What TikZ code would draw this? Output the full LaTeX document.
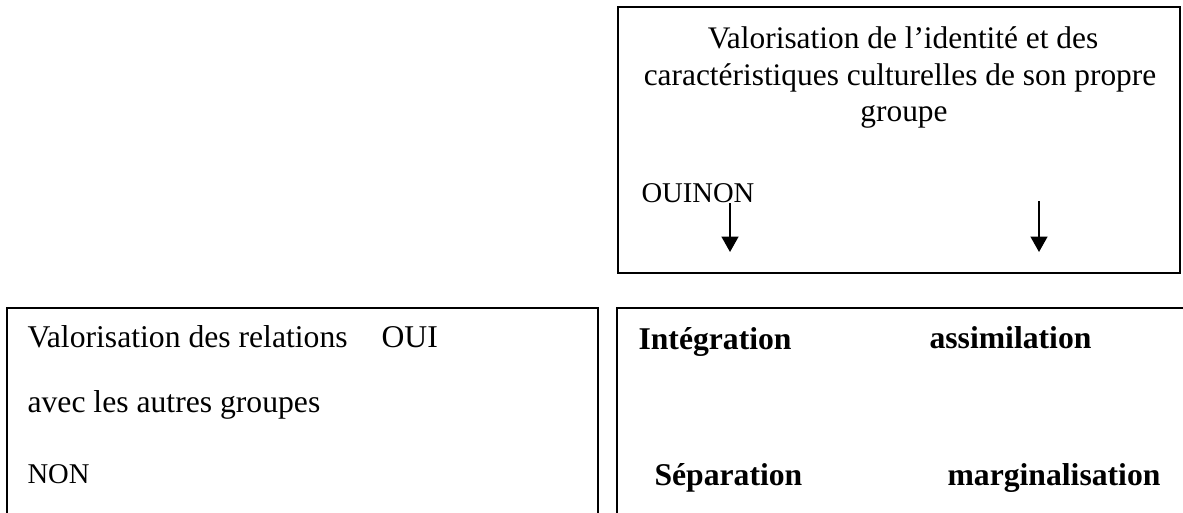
\documentclass[tikz,border=0pt]{standalone}
\usepackage{fontspec}
\setmainfont{Liberation Serif}
\usetikzlibrary{arrows.meta}
\tikzset{
  cadre/.style={draw, line width=0.75pt},
  texte/.style={anchor=base west, inner sep=0pt, font=\fontsize{11.4}{13}\selectfont},
  petit/.style={texte, font=\fontsize{10.3}{12}\selectfont},
  centre/.style={anchor=base, inner sep=0pt, font=\fontsize{11.3}{13}\selectfont},
  gras/.style={texte, font=\fontsize{11.4}{13}\selectfont\bfseries},
  fleche/.style={line width=0.7pt, -{Triangle[width=6pt,length=5.5pt]}}
}
\begin{document}
\begin{tikzpicture}[x=0.36pt, y=-0.36pt]
\useasboundingbox (0,0) rectangle (1183,513);
% cadres
\draw[cadre] (618,7) rectangle (1180,273);
\draw[cadre] (7,530) -- (7,308) -- (598,308) -- (598,530);
\draw[cadre] (617,530) -- (617,308) -- (1200,308);
% cadre du haut
\node[centre] (titre1) at (903,48) {Valorisation de l’identité et des};
\node[centre] (titre2) at (900,85) {caractéristiques culturelles de son propre};
\node[centre] (titre3) at (904,121) {groupe};
\node[petit] (ouinon) at (641,202) {OUINON};
\coordinate (A1) at (730,203);
\coordinate (B1) at (730,252);
\coordinate (A2) at (1039,201);
\coordinate (B2) at (1039,252);
\draw[fleche] (A1) -- (B1);
\draw[fleche] (A2) -- (B2);
% cadre de gauche
\node[texte] (relations) at (27,347) {Valorisation des relations};
\node[texte] (oui) at (381,347) {OUI};
\node[texte] (autres) at (27,412) {avec les autres groupes};
\node[petit] (non) at (27,483) {NON};
% cadre de droite
\node[gras] (integration) at (638,349) {Intégration};
\node[gras] (assimilation) at (929,348) {assimilation};
\node[gras] (separation) at (654,485) {Séparation};
\node[gras] (marginalisation) at (947,485) {marginalisation};
\end{tikzpicture}
\end{document}
